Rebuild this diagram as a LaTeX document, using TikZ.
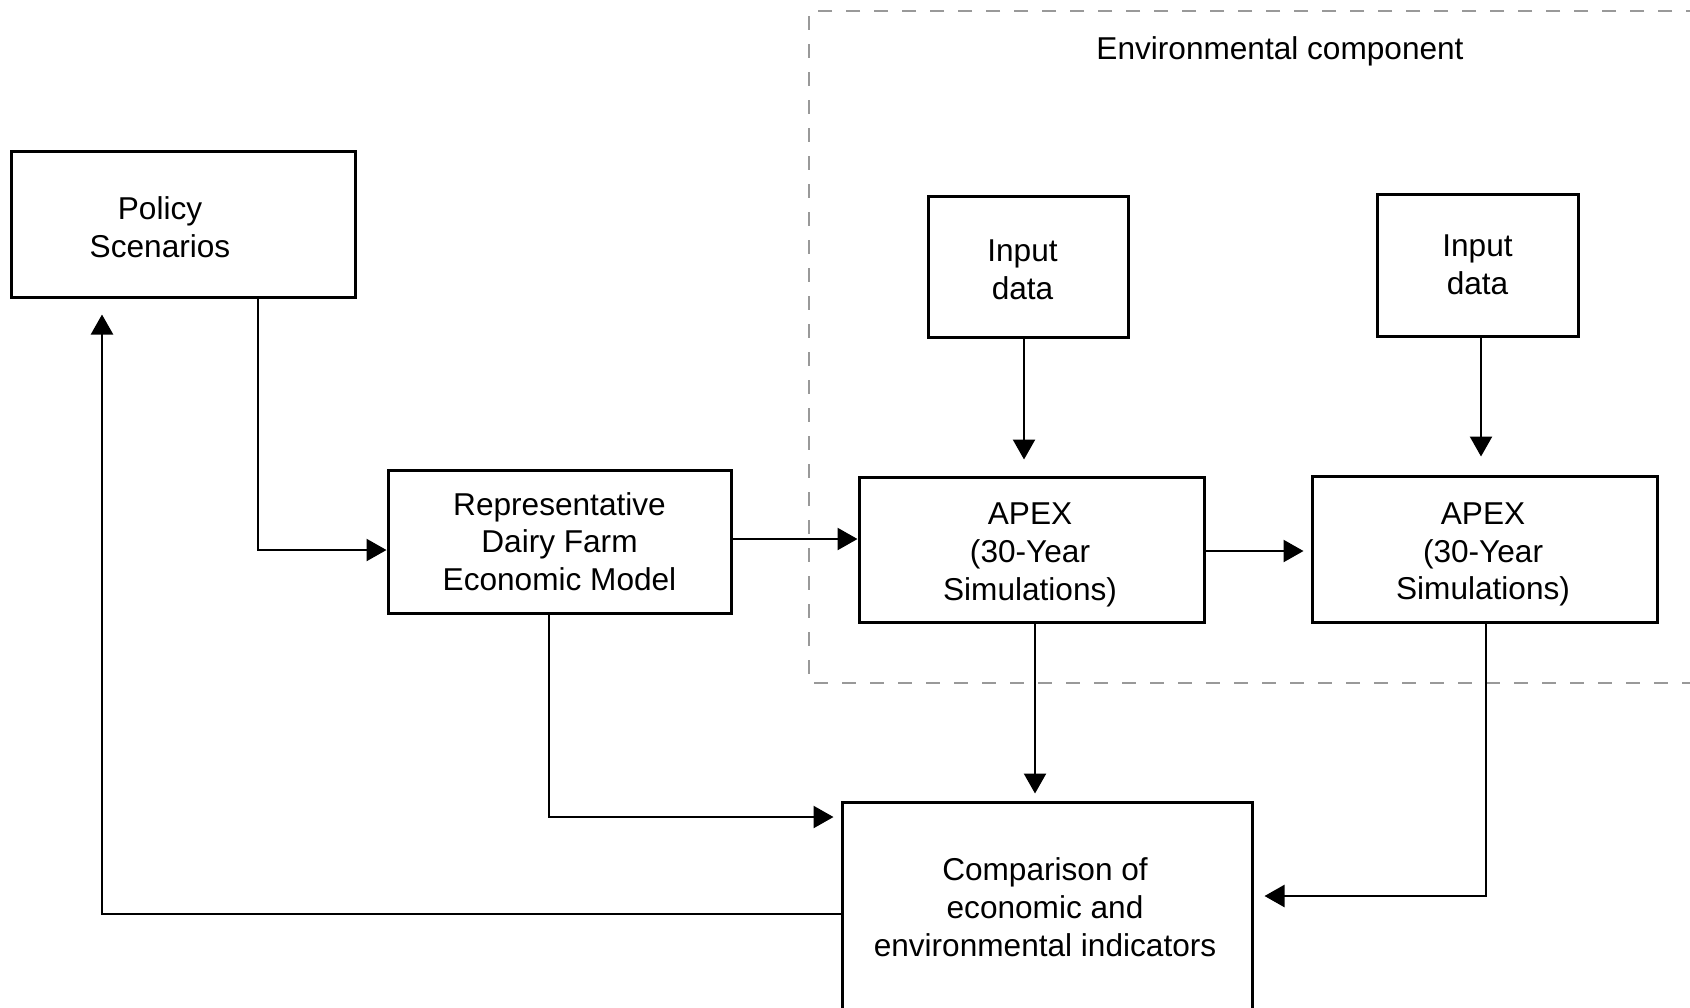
\documentclass[tikz,border=0pt]{standalone}
\usepackage{fontspec}
\setmainfont{Liberation Sans}
\usetikzlibrary{arrows.meta}
\tikzset{
  box/.style={draw, line width=1.5pt, inner sep=0pt, align=center},
  txt/.style={inner sep=0pt, align=center},
  arr/.style={line width=1.2pt, -{Triangle[length=10pt,width=11pt]}},
  frame/.style={draw=gray!80, line width=0.6pt, dash pattern=on 7pt off 7pt}
}
\begin{document}
\begin{tikzpicture}[x=0.5pt,y=-0.5pt,font=\fontsize{15.8pt}{18.9pt}\selectfont]
\useasboundingbox (0,0) rectangle (1690,1007);
% environmental component frame (open to the right)
\coordinate (f1) at (1700,11);
\coordinate (f2) at (809,11);
\coordinate (f3) at (809,683);
\coordinate (f4) at (1700,683);
\draw[frame] (f1) -- (f2) -- (f3) -- (f4);
\node[txt] (envt) at (1280,51) {Environmental component};
% boxes
\node[box, minimum width=172pt, minimum height=73pt] (policy) at (183,224) {};
\node[txt] (policyt) at (160,227) {Policy\\Scenarios};
\node[box, minimum width=171.5pt, minimum height=71.5pt] (rep) at (559.5,541.5) {Representative\\Dairy Farm\\Economic Model};
\node[box, minimum width=100pt, minimum height=70.5pt] (in1) at (1028,266.5) {};
\node[txt] (in1t) at (1022.5,269.5) {Input\\data};
\node[box, minimum width=100.5pt, minimum height=71pt] (in2) at (1477.5,265) {Input\\data};
\node[box, minimum width=172.5pt, minimum height=72.5pt] (apex1) at (1031.5,549.5) {};
\node[txt] (apex1t) at (1030,555) {APEX\\(30-Year\\Simulations)};
\node[box, minimum width=172.5pt, minimum height=73pt] (apex2) at (1484.5,549) {};
\node[txt] (apex2t) at (1483,554.5) {APEX\\(30-Year\\Simulations)};
\node[box, minimum width=205pt, minimum height=119pt] (comp) at (1047,921) {};
\node[txt] (compt) at (1045,907) {Comparison of\\economic and\\environmental indicators};
% connectors
\draw[arr] (policy.south -| 258,0) |- (rep.west |- 0,550);
\draw[arr] (rep.east |- 0,539) -- (apex1.west |- 0,539);
\draw[arr, shorten >=3.5pt] (apex1.east |- 0,551) -- (apex2.west |- 0,551);
\draw[arr, shorten >=8pt] (in1.south -| 1024,0) -- (apex1.north -| 1024,0);
\draw[arr, shorten >=9pt] (in2.south -| 1481,0) -- (apex2.north -| 1481,0);
\draw[arr, shorten >=3.5pt] (apex1.south -| 1035,0) -- (comp.north -| 1035,0);
\draw[arr, shorten >=5.5pt] (apex2.south -| 1486,0) |- (comp.east |- 0,896);
\draw[arr, shorten >=3.5pt] (rep.south -| 549,0) |- (comp.west |- 0,817);
\draw[arr, shorten >=8pt] (comp.west |- 0,914) -| (policy.south -| 102,0);
\end{tikzpicture}
\end{document}
